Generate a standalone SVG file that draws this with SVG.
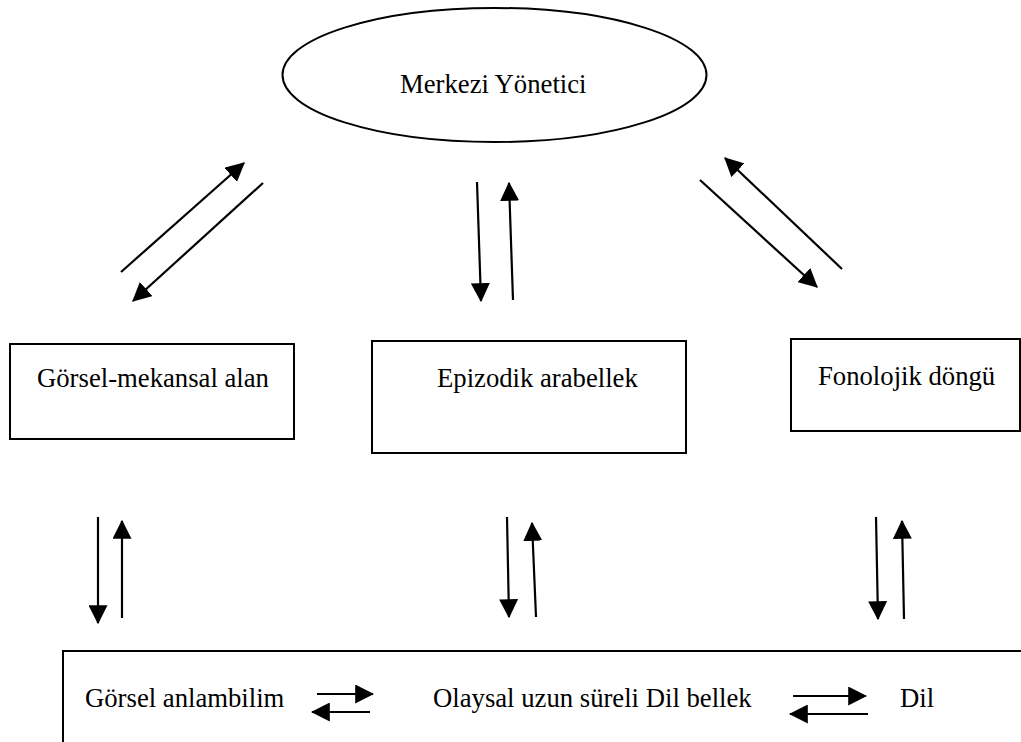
<svg xmlns="http://www.w3.org/2000/svg" width="1021" height="742" viewBox="0 0 1021 742">
<style>
.shape{fill:#fff;stroke:#000;stroke-width:2}
.lbl{font-family:'Liberation Serif','Times New Roman',Tinos,'DejaVu Serif',serif;font-size:26.7px;fill:#000}
.arr{stroke:#000;stroke-width:2.2;fill:none;marker-end:url(#ah)}
</style>
<defs>
<marker id="ah" markerUnits="userSpaceOnUse" markerWidth="19" markerHeight="19" refX="15" refY="8" orient="auto" viewBox="0 0 16 16">
<path d="M0,0 L16,8 L0,16 z" fill="#000"/>
</marker>
</defs>
<rect width="1021" height="742" fill="#fff"/>
<g id="merkezi">
<ellipse class="shape" cx="494.5" cy="75" rx="212" ry="67"/>
<text class="lbl" font-family="Liberation Serif, serif" x="400" y="93">Merkezi Yönetici</text>
</g>
<g id="gorsel-mekansal">
<rect class="shape" x="10" y="344" width="284" height="95"/>
<text class="lbl" font-family="Liberation Serif, serif" x="37" y="387">Görsel-mekansal alan</text>
</g>
<g id="epizodik">
<rect class="shape" x="372" y="341" width="314" height="112"/>
<text class="lbl" font-family="Liberation Serif, serif" x="437" y="387">Epizodik arabellek</text>
</g>
<g id="fonolojik">
<rect class="shape" x="791" y="339" width="229" height="92"/>
<text class="lbl" font-family="Liberation Serif, serif" x="818" y="385">Fonolojik döngü</text>
</g>
<g id="uzun-sureli">
<rect class="shape" x="63" y="651" width="1000" height="120"/>
<text class="lbl" font-family="Liberation Serif, serif" x="85" y="707">Görsel anlambilim</text>
<text class="lbl" font-family="Liberation Serif, serif" x="433" y="707">Olaysal uzun süreli Dil bellek</text>
<text class="lbl" font-family="Liberation Serif, serif" x="900" y="707">Dil</text>
</g>
<g id="connectors">
<line class="arr" x1="121" y1="272" x2="244" y2="163"/>
<line class="arr" x1="263" y1="183" x2="133" y2="301"/>
<line class="arr" x1="477" y1="182" x2="481" y2="301"/>
<line class="arr" x1="513" y1="300" x2="509" y2="183"/>
<line class="arr" x1="700" y1="180" x2="817" y2="287"/>
<line class="arr" x1="842" y1="269" x2="725" y2="158"/>
<line class="arr" x1="98" y1="517" x2="98" y2="623"/>
<line class="arr" x1="122" y1="618" x2="122" y2="521"/>
<line class="arr" x1="507" y1="517" x2="509" y2="617"/>
<line class="arr" x1="536" y1="617" x2="532" y2="523"/>
<line class="arr" x1="876" y1="517" x2="878" y2="619"/>
<line class="arr" x1="904" y1="619" x2="902" y2="521"/>
<line class="arr" x1="317" y1="694" x2="373" y2="694"/>
<line class="arr" x1="370" y1="712" x2="312" y2="712"/>
<line class="arr" x1="793" y1="696" x2="866" y2="696"/>
<line class="arr" x1="868" y1="714" x2="790" y2="714"/>
</g>
</svg>
